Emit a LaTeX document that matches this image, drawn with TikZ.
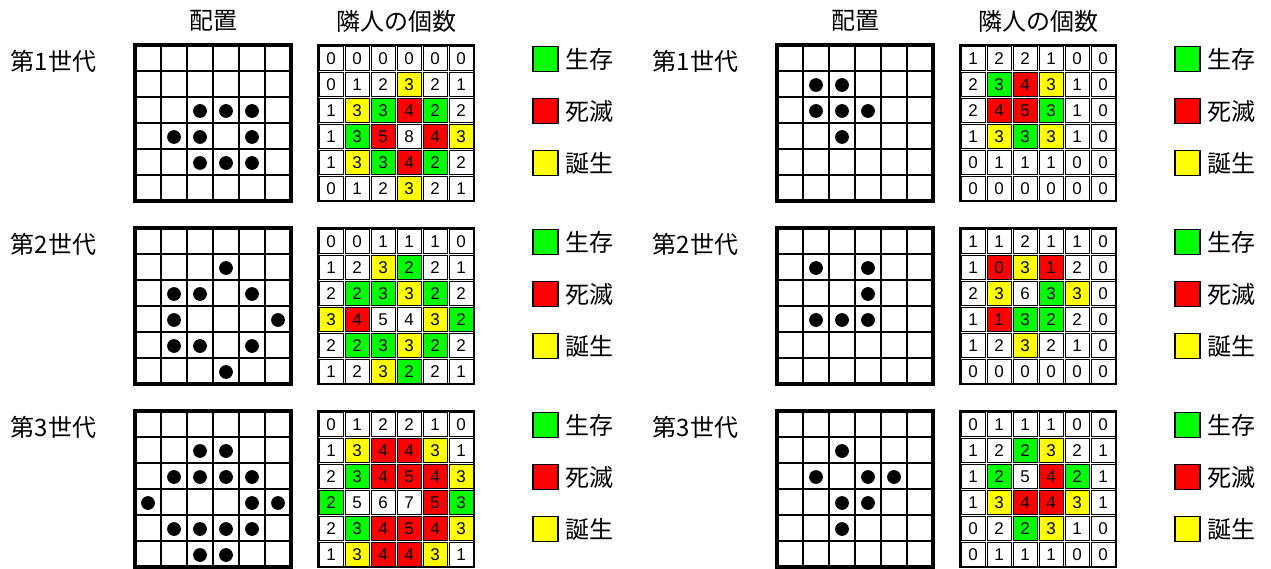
\documentclass[tikz,border=0pt]{standalone}
\usepackage{fontspec}
\newfontfamily\jpfont{Noto Sans CJK JP}
\newfontfamily\numfont{Liberation Sans}
\definecolor{lifeW}{RGB}{255,255,255}
\definecolor{lifeG}{RGB}{0,255,0}
\definecolor{lifeR}{RGB}{255,0,0}
\definecolor{lifeY}{RGB}{255,255,0}
\tikzset{
  numtext/.style={font=\numfont\fontsize{17}{17}\selectfont, inner sep=0pt},
  jptext/.style={font=\jpfont\fontsize{24}{24}\selectfont, inner sep=0pt},
  cellbox/.style={draw=black, line width=0.9pt},
  outerframe/.style={draw=black, line width=2.6pt},
  plframe/.style={draw=black, line width=3.4pt},
  plline/.style={draw=black, line width=1.7pt},
  legbox/.style={draw=black, line width=1.8pt},
}
% neighbour-count grid: id, x, y, rows
\newcommand\nbgrid[4]{%
  \foreach \row [count=\ri] in {#4} {
    \foreach \nv/\cc [count=\ci] in \row {
      \path[cellbox, fill=life\cc] (#2+26*\ci-25, #3+26*\ri-25) rectangle ++(24,24);
      \node[numtext] (n#1-\ri-\ci) at (#2+26*\ci-13, #3+26*\ri-12.5) {\nv};
    }
  }
  \path[outerframe] (#2,#3) rectangle ++(156,156);
}
% placement grid: x, y, dots (row/col)
\newcommand\plgrid[3]{%
  \foreach \i in {1,...,5} {
    \path[plline] (#1+26*\i,#2) -- ++(0,156);
    \path[plline] (#1,#2+26*\i) -- ++(156,0);
  }
  \path[plframe] (#1,#2) rectangle ++(156,156);
  \foreach \dr/\dc in {#3} {
    \fill (#1+26*\dc-13, #2+26*\dr-12) circle[radius=6.9];
  }
}
% legend: id, x, y(top of grid)
\newcommand\lifelegend[3]{%
  \path[legbox, fill=lifeG] (#2,#3+1.5) rectangle ++(25,25);
  \node[jptext, anchor=west] (l#1a) at (#2+32,#3+14.5) {生存};
  \path[legbox, fill=lifeR] (#2,#3+53.5) rectangle ++(25,25);
  \node[jptext, anchor=west] (l#1b) at (#2+32,#3+66.5) {死滅};
  \path[legbox, fill=lifeY] (#2,#3+105.5) rectangle ++(25,25);
  \node[jptext, anchor=west] (l#1c) at (#2+32,#3+118.5) {誕生};
}
\begin{document}
\begin{tikzpicture}[x=1pt,y=-1pt]
\useasboundingbox (0,0) rectangle (1271,569);
\fill[white] (0,0) rectangle (1271,569);

% headers
\node[jptext] (hpl1) at (213,21) {配置};
\node[jptext] (hnb1) at (396,21) {隣人の個数};
\node[jptext] (hpl2) at (855,21) {配置};
\node[jptext] (hnb2) at (1038,21) {隣人の個数};

% generation labels
\foreach \g/\yy in {1/45,2/228,3/411} {
  \node[jptext, anchor=west] (gl\g) at (10,\yy+16) {第\g\hspace{1pt}世代};
  \node[jptext, anchor=west] (gr\g) at (652,\yy+16) {第\g\hspace{1pt}世代};
}

% ---------- left column ----------
\plgrid{135}{45}{3/3,3/4,3/5,4/2,4/3,4/5,5/3,5/4,5/5}
\nbgrid{L1}{318}{45}{{0/W,0/W,0/W,0/W,0/W,0/W},{0/W,1/W,2/W,3/Y,2/W,1/W},{1/W,3/Y,3/G,4/R,2/G,2/W},{1/W,3/G,5/R,8/W,4/R,3/Y},{1/W,3/Y,3/G,4/R,2/G,2/W},{0/W,1/W,2/W,3/Y,2/W,1/W}}
\lifelegend{L1}{533}{45}

\plgrid{135}{228}{2/4,3/2,3/3,3/5,4/2,4/6,5/2,5/3,5/5,6/4}
\nbgrid{L2}{318}{228}{{0/W,0/W,1/W,1/W,1/W,0/W},{1/W,2/W,3/Y,2/G,2/W,1/W},{2/W,2/G,3/G,3/Y,2/G,2/W},{3/Y,4/R,5/W,4/W,3/Y,2/G},{2/W,2/G,3/G,3/Y,2/G,2/W},{1/W,2/W,3/Y,2/G,2/W,1/W}}
\lifelegend{L2}{533}{228}

\plgrid{135}{411}{2/3,2/4,3/2,3/3,3/4,3/5,4/1,4/5,4/6,5/2,5/3,5/4,5/5,6/3,6/4}
\nbgrid{L3}{318}{411}{{0/W,1/W,2/W,2/W,1/W,0/W},{1/W,3/Y,4/R,4/R,3/Y,1/W},{2/W,3/G,4/R,5/R,4/R,3/Y},{2/G,5/W,6/W,7/W,5/R,3/G},{2/W,3/G,4/R,5/R,4/R,3/Y},{1/W,3/Y,4/R,4/R,3/Y,1/W}}
\lifelegend{L3}{533}{411}

% ---------- right column ----------
\plgrid{777}{45}{2/2,2/3,3/2,3/3,3/4,4/3}
\nbgrid{R1}{960}{45}{{1/W,2/W,2/W,1/W,0/W,0/W},{2/W,3/G,4/R,3/Y,1/W,0/W},{2/W,4/R,5/R,3/G,1/W,0/W},{1/W,3/Y,3/G,3/Y,1/W,0/W},{0/W,1/W,1/W,1/W,0/W,0/W},{0/W,0/W,0/W,0/W,0/W,0/W}}
\lifelegend{R1}{1175}{45}

\plgrid{777}{228}{2/2,2/4,3/4,4/2,4/3,4/4}
\nbgrid{R2}{960}{228}{{1/W,1/W,2/W,1/W,1/W,0/W},{1/W,0/R,3/Y,1/R,2/W,0/W},{2/W,3/Y,6/W,3/G,3/Y,0/W},{1/W,1/R,3/G,2/G,2/W,0/W},{1/W,2/W,3/Y,2/W,1/W,0/W},{0/W,0/W,0/W,0/W,0/W,0/W}}
\lifelegend{R2}{1175}{228}

\plgrid{777}{411}{2/3,3/2,3/4,3/5,4/3,4/4,5/3}
\nbgrid{R3}{960}{411}{{0/W,1/W,1/W,1/W,0/W,0/W},{1/W,2/W,2/G,3/Y,2/W,1/W},{1/W,2/G,5/W,4/R,2/G,1/W},{1/W,3/Y,4/R,4/R,3/Y,1/W},{0/W,2/W,2/G,3/Y,1/W,0/W},{0/W,1/W,1/W,1/W,0/W,0/W}}
\lifelegend{R3}{1175}{411}
\end{tikzpicture}
\end{document}
